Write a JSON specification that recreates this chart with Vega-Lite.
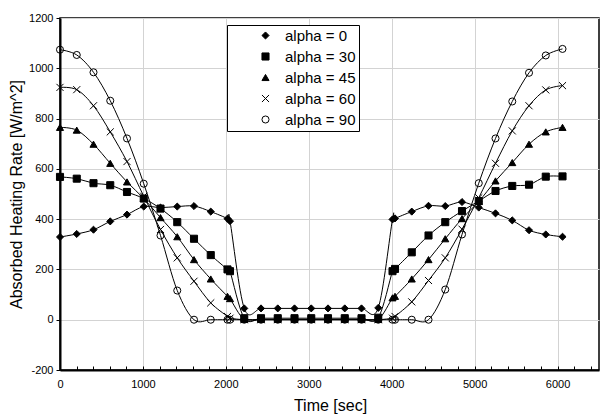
{
  "$schema": "https://vega.github.io/schema/vega-lite/v6.json",
  "width": 539,
  "height": 352,
  "autosize": "none",
  "padding": {"left": 60, "top": 18, "right": 3, "bottom": 46},
  "background": "white",
  "config": {
    "font": "Liberation Sans",
    "view": {"stroke": "black", "strokeWidth": 1.5},
    "axis": {"labelColor": "black", "titleColor": "black", "titleFontWeight": "normal", "tickColor": "black", "domainColor": "black", "domainWidth": 2, "gridColor": "#d3d3d3", "gridWidth": 1, "labelFontSize": 11, "titleFontSize": 16}
  },
  "data": {"values": [
    {"t":0,"v":329,"s":"alpha = 0"},{"t":202,"v":341,"s":"alpha = 0"},{"t":404,"v":358,"s":"alpha = 0"},{"t":606,"v":391,"s":"alpha = 0"},{"t":808,"v":418,"s":"alpha = 0"},{"t":1010,"v":450,"s":"alpha = 0"},{"t":1212,"v":446,"s":"alpha = 0"},{"t":1414,"v":450,"s":"alpha = 0"},{"t":1616,"v":452,"s":"alpha = 0"},{"t":1818,"v":430,"s":"alpha = 0"},{"t":2020,"v":402,"s":"alpha = 0"},{"t":2050,"v":392,"s":"alpha = 0"},{"t":2222,"v":45,"s":"alpha = 0"},{"t":2424,"v":45,"s":"alpha = 0"},{"t":2626,"v":45,"s":"alpha = 0"},{"t":2828,"v":45,"s":"alpha = 0"},{"t":3030,"v":45,"s":"alpha = 0"},{"t":3232,"v":45,"s":"alpha = 0"},{"t":3434,"v":45,"s":"alpha = 0"},{"t":3636,"v":45,"s":"alpha = 0"},{"t":3838,"v":47,"s":"alpha = 0"},{"t":4010,"v":399,"s":"alpha = 0"},{"t":4040,"v":403,"s":"alpha = 0"},{"t":4242,"v":430,"s":"alpha = 0"},{"t":4444,"v":453,"s":"alpha = 0"},{"t":4646,"v":452,"s":"alpha = 0"},{"t":4848,"v":468,"s":"alpha = 0"},{"t":5050,"v":446,"s":"alpha = 0"},{"t":5252,"v":423,"s":"alpha = 0"},{"t":5454,"v":395,"s":"alpha = 0"},{"t":5656,"v":356,"s":"alpha = 0"},{"t":5858,"v":339,"s":"alpha = 0"},{"t":6060,"v":330,"s":"alpha = 0"},
    {"t":0,"v":568,"s":"alpha = 30"},{"t":202,"v":561,"s":"alpha = 30"},{"t":404,"v":543,"s":"alpha = 30"},{"t":606,"v":535,"s":"alpha = 30"},{"t":808,"v":508,"s":"alpha = 30"},{"t":1010,"v":482,"s":"alpha = 30"},{"t":1212,"v":442,"s":"alpha = 30"},{"t":1414,"v":388,"s":"alpha = 30"},{"t":1616,"v":322,"s":"alpha = 30"},{"t":1818,"v":257,"s":"alpha = 30"},{"t":2020,"v":200,"s":"alpha = 30"},{"t":2050,"v":193,"s":"alpha = 30"},{"t":2222,"v":6,"s":"alpha = 30"},{"t":2424,"v":6,"s":"alpha = 30"},{"t":2626,"v":6,"s":"alpha = 30"},{"t":2828,"v":6,"s":"alpha = 30"},{"t":3030,"v":6,"s":"alpha = 30"},{"t":3232,"v":6,"s":"alpha = 30"},{"t":3434,"v":6,"s":"alpha = 30"},{"t":3636,"v":6,"s":"alpha = 30"},{"t":3838,"v":8,"s":"alpha = 30"},{"t":4010,"v":193,"s":"alpha = 30"},{"t":4040,"v":202,"s":"alpha = 30"},{"t":4242,"v":268,"s":"alpha = 30"},{"t":4444,"v":335,"s":"alpha = 30"},{"t":4646,"v":388,"s":"alpha = 30"},{"t":4848,"v":432,"s":"alpha = 30"},{"t":5050,"v":472,"s":"alpha = 30"},{"t":5252,"v":512,"s":"alpha = 30"},{"t":5454,"v":532,"s":"alpha = 30"},{"t":5656,"v":537,"s":"alpha = 30"},{"t":5858,"v":569,"s":"alpha = 30"},{"t":6060,"v":570,"s":"alpha = 30"},
    {"t":0,"v":765,"s":"alpha = 45"},{"t":202,"v":754,"s":"alpha = 45"},{"t":404,"v":698,"s":"alpha = 45"},{"t":606,"v":622,"s":"alpha = 45"},{"t":808,"v":548,"s":"alpha = 45"},{"t":1010,"v":482,"s":"alpha = 45"},{"t":1212,"v":406,"s":"alpha = 45"},{"t":1414,"v":330,"s":"alpha = 45"},{"t":1616,"v":239,"s":"alpha = 45"},{"t":1818,"v":162,"s":"alpha = 45"},{"t":2020,"v":93,"s":"alpha = 45"},{"t":2050,"v":84,"s":"alpha = 45"},{"t":2222,"v":1,"s":"alpha = 45"},{"t":2424,"v":1,"s":"alpha = 45"},{"t":2626,"v":1,"s":"alpha = 45"},{"t":2828,"v":1,"s":"alpha = 45"},{"t":3030,"v":1,"s":"alpha = 45"},{"t":3232,"v":1,"s":"alpha = 45"},{"t":3434,"v":1,"s":"alpha = 45"},{"t":3636,"v":1,"s":"alpha = 45"},{"t":3838,"v":1,"s":"alpha = 45"},{"t":4010,"v":87,"s":"alpha = 45"},{"t":4040,"v":93,"s":"alpha = 45"},{"t":4242,"v":162,"s":"alpha = 45"},{"t":4444,"v":239,"s":"alpha = 45"},{"t":4646,"v":322,"s":"alpha = 45"},{"t":4848,"v":402,"s":"alpha = 45"},{"t":5050,"v":470,"s":"alpha = 45"},{"t":5252,"v":552,"s":"alpha = 45"},{"t":5454,"v":625,"s":"alpha = 45"},{"t":5656,"v":698,"s":"alpha = 45"},{"t":5858,"v":747,"s":"alpha = 45"},{"t":6060,"v":765,"s":"alpha = 45"},
    {"t":0,"v":924,"s":"alpha = 60"},{"t":202,"v":915,"s":"alpha = 60"},{"t":404,"v":851,"s":"alpha = 60"},{"t":606,"v":747,"s":"alpha = 60"},{"t":808,"v":629,"s":"alpha = 60"},{"t":1010,"v":491,"s":"alpha = 60"},{"t":1212,"v":359,"s":"alpha = 60"},{"t":1414,"v":246,"s":"alpha = 60"},{"t":1616,"v":153,"s":"alpha = 60"},{"t":1818,"v":67,"s":"alpha = 60"},{"t":2020,"v":13,"s":"alpha = 60"},{"t":2050,"v":6,"s":"alpha = 60"},{"t":2222,"v":0,"s":"alpha = 60"},{"t":2424,"v":0,"s":"alpha = 60"},{"t":2626,"v":0,"s":"alpha = 60"},{"t":2828,"v":0,"s":"alpha = 60"},{"t":3030,"v":0,"s":"alpha = 60"},{"t":3232,"v":0,"s":"alpha = 60"},{"t":3434,"v":0,"s":"alpha = 60"},{"t":3636,"v":0,"s":"alpha = 60"},{"t":3838,"v":0,"s":"alpha = 60"},{"t":4010,"v":6,"s":"alpha = 60"},{"t":4040,"v":13,"s":"alpha = 60"},{"t":4242,"v":71,"s":"alpha = 60"},{"t":4444,"v":156,"s":"alpha = 60"},{"t":4646,"v":246,"s":"alpha = 60"},{"t":4848,"v":360,"s":"alpha = 60"},{"t":5050,"v":485,"s":"alpha = 60"},{"t":5252,"v":622,"s":"alpha = 60"},{"t":5454,"v":751,"s":"alpha = 60"},{"t":5656,"v":851,"s":"alpha = 60"},{"t":5858,"v":914,"s":"alpha = 60"},{"t":6060,"v":931,"s":"alpha = 60"},
    {"t":0,"v":1074,"s":"alpha = 90"},{"t":202,"v":1053,"s":"alpha = 90"},{"t":404,"v":984,"s":"alpha = 90"},{"t":606,"v":871,"s":"alpha = 90"},{"t":808,"v":721,"s":"alpha = 90"},{"t":1010,"v":541,"s":"alpha = 90"},{"t":1212,"v":335,"s":"alpha = 90"},{"t":1414,"v":116,"s":"alpha = 90"},{"t":1616,"v":0,"s":"alpha = 90"},{"t":1818,"v":0,"s":"alpha = 90"},{"t":2020,"v":0,"s":"alpha = 90"},{"t":2050,"v":0,"s":"alpha = 90"},{"t":2222,"v":0,"s":"alpha = 90"},{"t":2424,"v":0,"s":"alpha = 90"},{"t":2626,"v":0,"s":"alpha = 90"},{"t":2828,"v":0,"s":"alpha = 90"},{"t":3030,"v":0,"s":"alpha = 90"},{"t":3232,"v":0,"s":"alpha = 90"},{"t":3434,"v":0,"s":"alpha = 90"},{"t":3636,"v":0,"s":"alpha = 90"},{"t":3838,"v":0,"s":"alpha = 90"},{"t":4010,"v":0,"s":"alpha = 90"},{"t":4040,"v":0,"s":"alpha = 90"},{"t":4242,"v":0,"s":"alpha = 90"},{"t":4444,"v":0,"s":"alpha = 90"},{"t":4646,"v":120,"s":"alpha = 90"},{"t":4848,"v":339,"s":"alpha = 90"},{"t":5050,"v":543,"s":"alpha = 90"},{"t":5252,"v":721,"s":"alpha = 90"},{"t":5454,"v":868,"s":"alpha = 90"},{"t":5656,"v":982,"s":"alpha = 90"},{"t":5858,"v":1051,"s":"alpha = 90"},{"t":6060,"v":1077,"s":"alpha = 90"}
  ]},
  "encoding": {
    "x": {"field": "t", "type": "quantitative",
      "scale": {"domain": [0, 6500], "nice": false, "zero": false},
      "axis": {"values": [0,200,400,600,800,1000,1200,1400,1600,1800,2000,2200,2400,2600,2800,3000,3200,3400,3600,3800,4000,4200,4400,4600,4800,5000,5200,5400,5600,5800,6000,6200,6400],
        "labelExpr": "datum.value % 1000 === 0 ? '' + datum.value : ''",
        "labelOverlap": false, "labelFlush": false,
        "grid": true,
        "gridColor": {"condition": {"test": "datum.value % 1000 === 0", "value": "#d3d3d3"}, "value": "transparent"},
        "tickSize": -4, "labelPadding": 12,
        "title": "Time [sec]", "titleX": 270, "titleY": 35, "titleBaseline": "middle"}},
    "y": {"field": "v", "type": "quantitative",
      "scale": {"domain": [-200, 1200], "nice": false, "zero": false},
      "axis": {"values": [-200,0,200,400,600,800,1000,1200],
        "labelExpr": "'' + datum.value", "grid": true, "tickSize": 4, "labelPadding": 3,
        "title": "Absorbed Heating Rate [W/m^2]", "titleX": -44, "titleY": 176, "titleBaseline": "middle"}}
  },
  "layer": [
    {"mark": {"type": "line", "interpolate": "cardinal", "color": "black", "strokeWidth": 1},
     "encoding": {"detail": {"field": "s"}}},
    {"mark": {"type": "point", "filled": true, "strokeWidth": 1, "opacity": 1, "size": 50},
     "encoding": {
       "shape": {"field": "s", "type": "nominal", "title": null,
         "scale": {"domain": ["alpha = 0","alpha = 30","alpha = 45","alpha = 60","alpha = 90"],
                   "range": ["diamond","square","triangle-up","M-1,-1L1,1M-1,1L1,-1","circle"]},
         "legend": {"orient": "none", "legendX": 167, "legendY": 7,
           "strokeColor": "black", "fillColor": "white", "padding": 3, "cornerRadius": 0,
           "symbolSize": 50, "symbolOffset": 28, "labelOffset": 12,
           "labelFontSize": 15, "labelColor": "black", "labelExpr": "datum.label + '    '",
           "rowPadding": 5, "symbolStrokeWidth": 1, "symbolOpacity": 1}},
       "fill": {"field": "s", "type": "nominal", "title": null,
         "scale": {"domain": ["alpha = 0","alpha = 30","alpha = 45","alpha = 60","alpha = 90"],
                   "range": ["black","black","black","transparent","transparent"]}},
       "stroke": {"field": "s", "type": "nominal", "title": null,
         "scale": {"domain": ["alpha = 0","alpha = 30","alpha = 45","alpha = 60","alpha = 90"],
                   "range": ["black","black","black","black","black"]}}
     }}
  ]
}
